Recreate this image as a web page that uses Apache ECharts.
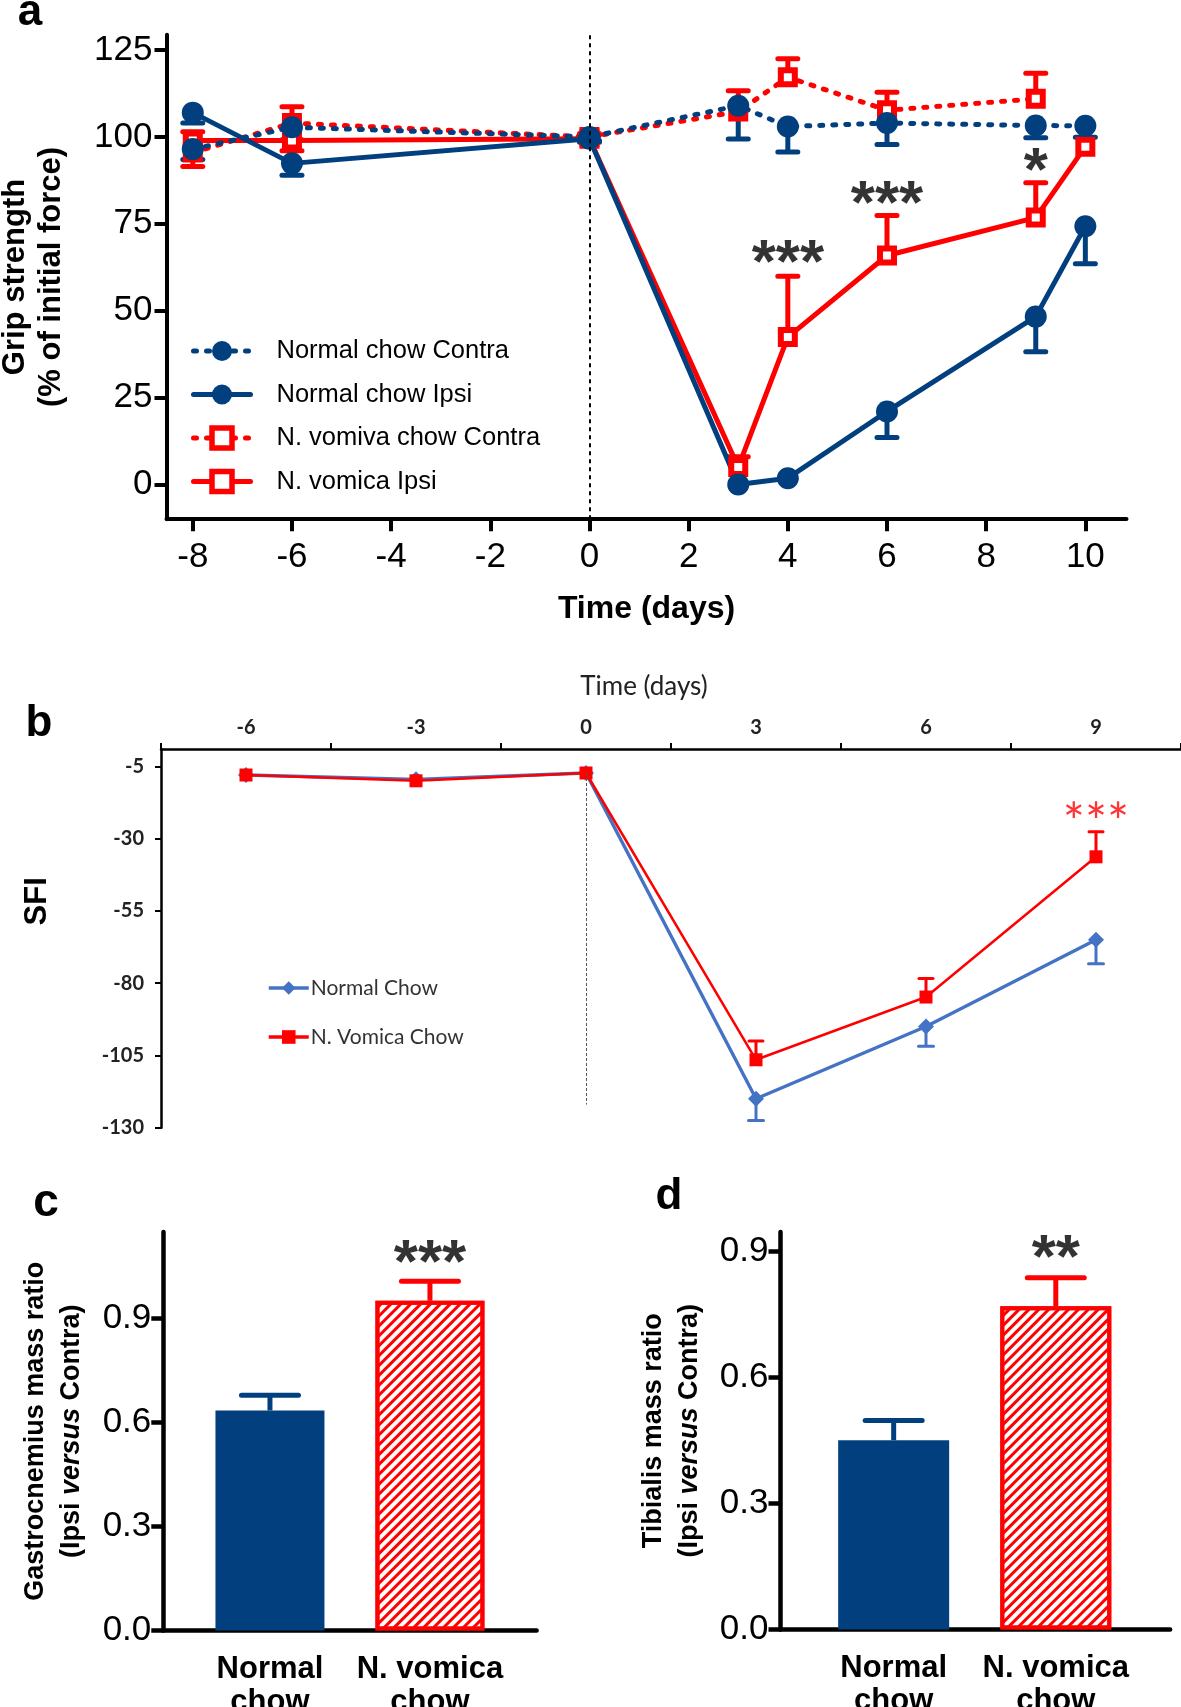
<!DOCTYPE html>
<html><head><meta charset="utf-8">
<script src="https://cdn.jsdelivr.net/npm/echarts@6/dist/echarts.min.js"></script>
<style>html,body{margin:0;padding:0;background:#fff}#c{width:1181px;height:1707px}</style>
</head><body><div id="c"></div><script>
// ---------- Panel a : grip strength ----------
const aDays = [-8, -6, 0, 3, 4, 6, 9, 10];
const aNames = ['Normal chow Contra', 'Normal chow Ipsi', 'N. vomiva chow Contra', 'N. vomica Ipsi'];
const aNormalContra    = [96.5, 102.8, 100, 109, 103, 104, 103.3, 103.2];
const aNormalContraErr = [-3, -3.6, -1, -9.6, -7.3, -6.2, -3.5, -3.3];
const aNormalIpsi      = [107, 92.4, 99.5, 0, 1.8, 21, 48.3, 74.3];
const aNormalIpsiErr   = [-3, -3.4, -1, 0, 0, -7.5, -10.1, -10.8];
const aVomContra       = [95.5, 104, 100, 107.3, 117.2, 107.7, 111, null];
const aVomContraErr    = [-4, 4.7, 1, 6, 5.3, 5.2, 7.3, null];
const aVomIpsi         = [99, 99, 99.5, 5, 42.4, 65.9, 76.8, 97.2];
const aVomIpsiErr      = [2.5, -3, 1, 3, 17.5, 11.5, 10, 0];
const aXTicks = [-8, -6, -4, -2, 0, 2, 4, 6, 8, 10];
const aYTicks = [0, 25, 50, 75, 100, 125];
const aSigDays = [4, 6, 9];
const aSigY    = [66.5, 83.7, 93.1];
const aSigText = ['***', '***', '*'];

// ---------- Panel b : SFI ----------
const bDays = ['-6', '-3', '0', '3', '6', '9'];
const bNames = ['Normal Chow', 'N. Vomica Chow'];
const bNormal    = [-8, -9.5, -7.3, -120, -95, -65];
const bNormalErr = [0, 0, 0, -7.5, -6.8, -8.3];
const bVom       = [-8, -10, -7.3, -106.5, -84.8, -36.3];
const bVomErr    = [0, 0, 0, 6.5, 6.4, 8.7];
const bYTicks = [-5, -30, -55, -80, -105, -130];
const bSigDays = ['9'];
const bSigY    = [-21.6];
const bSigText = ['***'];

// ---------- Panels c, d : mass ratios ----------
const groups = ['Normal\nchow', 'N. vomica\nchow'];
const cValues = [0.634, 0.95];
const cErr    = [0.044, 0.056];
const cSigY   = [null, 1.087];
const cSigText = ['', '***'];
const dValues = [0.451, 0.770];
const dErr    = [0.047, 0.068];
const dSigY   = [null, 0.909];
const dSigText = ['', '**'];
const barYTicks = [0, 0.3, 0.6, 0.9];

// ---------- styles ----------
const F = '"Liberation Sans", Arial, sans-serif';
const FB = 'Lato, "Open Sans", sans-serif';
const NAVY = '#023f7f';
const RED = '#ff0000';
const BBLUE = '#4472c4';
const barColors = [NAVY, RED];

function errRender(capW, lw, colorOf) {
  return function (params, api) {
    const color = typeof colorOf === 'function' ? colorOf(params.dataIndex) : colorOf;
    const p1 = api.coord([api.value(0), api.value(1)]);
    const p2 = api.coord([api.value(0), api.value(2)]);
    return { type: 'group', children: [
      { type: 'line', shape: { x1: p1[0], y1: p1[1], x2: p2[0], y2: p2[1] }, style: { stroke: color, lineWidth: lw } },
      { type: 'line', shape: { x1: p2[0] - capW / 2, y1: p2[1], x2: p2[0] + capW / 2, y2: p2[1] }, style: { stroke: color, lineWidth: lw, lineCap: 'round' } }
    ]};
  };
}
function errData(xs, vals, errs) {
  const out = [];
  xs.forEach((x, i) => { if (vals[i] != null && errs[i]) out.push([x, vals[i], vals[i] + errs[i]]); });
  return out;
}
function errSeries(xi, data, capW, lw, colorOf, z) {
  return { type: 'custom', xAxisIndex: xi, yAxisIndex: xi, data: data, renderItem: errRender(capW, lw, colorOf), z: z || 1, silent: true };
}
function sigSeries(xi, xs, ys, texts, font) {
  const data = [];
  xs.forEach((x, i) => { if (ys[i] != null) data.push({ value: [x, ys[i]], label: { formatter: texts[i] } }); });
  return { type: 'scatter', xAxisIndex: xi, yAxisIndex: xi, data: data, symbol: 'circle', symbolSize: 1,
    itemStyle: { color: 'rgba(0,0,0,0)' }, silent: true, z: 10,
    label: Object.assign({ show: true, position: 'inside' }, font) };
}

const aLine = (name, vals, sym, solid, color) => ({
  name: name, type: 'line', xAxisIndex: 0, yAxisIndex: 0,
  data: aDays.map((d, i) => [d, vals[i]]),
  symbol: sym, symbolSize: sym === 'circle' ? 22 : 14,
  itemStyle: sym === 'circle' ? { color: color } : { color: '#fff', borderColor: color, borderWidth: 6 },
  lineStyle: { color: color, width: 5, type: solid ? 'solid' : [3, 10], cap: 'round' },
  z: 3, silent: true
});

const axisBlack = (w) => ({ show: true, onZero: false, lineStyle: { color: '#000', width: w } });
const hatch = { symbol: 'rect', symbolSize: 1, color: RED, dashArrayX: [1, 0], dashArrayY: [3, 4], rotation: -Math.PI / 4 };
const yName = (l1) => '{b|' + l1 + '}\n{b|(Ipsi }{i|versus}{b| Contra)}';
const yNameRich = { rich: {
  b: { fontSize: 27, fontWeight: 'bold', color: '#000', fontFamily: F, lineHeight: 36 },
  i: { fontSize: 27, fontWeight: 'bold', fontStyle: 'italic', color: '#000', fontFamily: F, lineHeight: 36 } } };

const option = {
  animation: false,
  backgroundColor: '#fff',
  grid: [
    { left: 166.5, top: 34.8, width: 960, height: 484.4, containLabel: false, outerBoundsMode: 'none' },
    { left: 161, top: 749, width: 1020, height: 378.7, containLabel: false, outerBoundsMode: 'none' },
    { left: 163.3, top: 1232, width: 373.3, height: 398.6, containLabel: false, outerBoundsMode: 'none' },
    { left: 780.5, top: 1232, width: 389.6, height: 397.5, containLabel: false, outerBoundsMode: 'none' }
  ],
  xAxis: [
    { gridIndex: 0, type: 'value', min: -8.53, max: 10.83, axisLine: axisBlack(4),
      axisTick: { show: true, customValues: aXTicks, length: 12, lineStyle: { width: 4, color: '#000' } },
      axisLabel: { customValues: aXTicks, fontSize: 35, color: '#000', margin: 21, fontFamily: F },
      splitLine: { show: false },
      name: 'Time (days)', nameLocation: 'middle', nameGap: 74,
      nameTextStyle: { fontSize: 32, fontWeight: 'bold', color: '#000', fontFamily: F } },
    { gridIndex: 1, type: 'category', data: bDays, position: 'top', boundaryGap: true, axisLine: axisBlack(2.5),
      axisTick: { show: true, length: 6, lineStyle: { width: 2, color: '#000' } },
      axisLabel: { fontSize: 20, fontWeight: 'bold', color: '#222', margin: 11, fontFamily: FB },
      name: 'Time (days)', nameLocation: 'middle', nameGap: 49,
      nameTextStyle: { fontSize: 26, color: '#222', fontFamily: FB, padding: [0, 54, 0, 0] } },
    { gridIndex: 2, type: 'value', min: -2 / 3, max: 5 / 3, axisLine: axisBlack(4.5),
      axisTick: { show: false }, splitLine: { show: false },
      axisLabel: { customValues: [0, 1], formatter: v => groups[Math.round(v)], fontSize: 31, fontWeight: 'bold',
        lineHeight: 33, color: '#000', margin: 22, fontFamily: F } },
    { gridIndex: 3, type: 'value', min: -0.698, max: 1.705, axisLine: axisBlack(4.5),
      axisTick: { show: false }, splitLine: { show: false },
      axisLabel: { customValues: [0, 1], formatter: v => groups[Math.round(v)], fontSize: 31, fontWeight: 'bold',
        lineHeight: 33, color: '#000', margin: 22, fontFamily: F } }
  ],
  yAxis: [
    { gridIndex: 0, type: 'value', min: -10, max: 129.4, axisLine: axisBlack(4),
      axisTick: { show: true, customValues: aYTicks, length: 12, lineStyle: { width: 4, color: '#000' } },
      axisLabel: { customValues: aYTicks, fontSize: 35, color: '#000', margin: 14, fontFamily: F },
      splitLine: { show: false },
      name: 'Grip strength\n(% of initial force)', nameLocation: 'middle', nameRotate: 90, nameGap: 97,
      nameTextStyle: { fontSize: 31, fontWeight: 'bold', color: '#000', fontFamily: F, lineHeight: 36 } },
    { gridIndex: 1, type: 'value', min: -130, max: 1, axisLine: axisBlack(2.5),
      axisTick: { show: true, customValues: bYTicks, length: 6, lineStyle: { width: 2, color: '#000' } },
      axisLabel: { customValues: bYTicks, fontSize: 20, fontWeight: 'bold', color: '#222', margin: 17, fontFamily: FB },
      splitLine: { show: false },
      name: 'SFI', nameLocation: 'middle', nameRotate: 90, nameGap: 108,
      nameTextStyle: { fontSize: 31, fontWeight: 'bold', color: '#000', fontFamily: F, padding: [0, 0, 0, 74] } },
    { gridIndex: 2, type: 'value', min: 0, max: 1.148, axisLine: axisBlack(4.5),
      axisTick: { show: true, customValues: barYTicks, length: 12, lineStyle: { width: 4.5, color: '#000' } },
      axisLabel: { customValues: barYTicks, formatter: v => v.toFixed(1), fontSize: 35, color: '#000', margin: 12, fontFamily: F },
      splitLine: { show: false },
      name: yName('Gastrocnemius mass ratio'), nameLocation: 'middle', nameRotate: 90, nameGap: 74, nameTextStyle: yNameRich },
    { gridIndex: 3, type: 'value', min: 0, max: 0.947, axisLine: axisBlack(4.5),
      axisTick: { show: true, customValues: barYTicks, length: 12, lineStyle: { width: 4.5, color: '#000' } },
      axisLabel: { customValues: barYTicks, formatter: v => v.toFixed(1), fontSize: 35, color: '#000', margin: 12, fontFamily: F },
      splitLine: { show: false },
      name: yName('Tibialis mass ratio'), nameLocation: 'middle', nameRotate: 90, nameGap: 73, nameTextStyle: yNameRich }
  ],
  legend: [
    { data: [
        { name: aNames[0] }, { name: aNames[1] },
        { name: aNames[2], itemStyle: { borderWidth: 5.5 } }, { name: aNames[3], itemStyle: { borderWidth: 5.5 } } ],
      orient: 'vertical', left: 186, top: 333, itemWidth: 57, itemHeight: 25, itemGap: 17.5,
      lineStyle: { width: 5 },
      selectedMode: false, textStyle: { fontFamily: F, fontSize: 25.5, color: '#000', lineHeight: 25, padding: [0, 0, 0, 21] } },
    { data: bNames, orient: 'vertical', left: 262, top: 972, itemWidth: 40, itemHeight: 17, itemGap: 27,
      lineStyle: { width: 3.5 },
      selectedMode: false, textStyle: { fontFamily: FB, fontSize: 21, color: '#333', lineHeight: 22, padding: [0, 0, 0, -3] } }
  ],
  graphic: [
    { type: 'text', x: 30, y: 12.5, style: { text: 'a', font: 'bold 44px "Liberation Sans"', fill: '#000', align: 'center', verticalAlign: 'middle' } },
    { type: 'text', x: 39, y: 724, style: { text: 'b', font: 'bold 44px "Liberation Sans"', fill: '#000', align: 'center', verticalAlign: 'middle' } },
    { type: 'text', x: 46, y: 1203.5, style: { text: 'c', font: 'bold 46px "Liberation Sans"', fill: '#000', align: 'center', verticalAlign: 'middle' } },
    { type: 'text', x: 669, y: 1197, style: { text: 'd', font: 'bold 44px "Liberation Sans"', fill: '#000', align: 'center', verticalAlign: 'middle' } }
  ],
  series: [
    // panel a error bars
    errSeries(0, errData(aDays, aVomContra, aVomContraErr), 20, 5, RED),
    errSeries(0, errData(aDays, aVomIpsi, aVomIpsiErr), 20, 5, RED),
    errSeries(0, errData(aDays, aNormalContra, aNormalContraErr), 20, 5, NAVY),
    errSeries(0, errData(aDays, aNormalIpsi, aNormalIpsiErr), 20, 5, NAVY),
    // panel a lines
    Object.assign(aLine(aNames[2], aVomContra, 'rect', false, RED), {
      markLine: { silent: true, symbol: 'none', label: { show: false },
        lineStyle: { color: '#000', width: 2, type: [4, 4] }, data: [{ xAxis: 0 }] } }),
    aLine(aNames[3], aVomIpsi, 'rect', true, RED),
    aLine(aNames[0], aNormalContra, 'circle', false, NAVY),
    aLine(aNames[1], aNormalIpsi, 'circle', true, NAVY),
    sigSeries(0, aSigDays, aSigY, aSigText, { fontSize: 62, fontWeight: 'bold', color: '#000', fontFamily: F, offset: [0, 12] }),
    // panel b
    errSeries(1, errData(bDays, bNormal, bNormalErr), 15, 3, BBLUE),
    errSeries(1, errData(bDays, bVom, bVomErr), 14, 3, RED),
    { name: bNames[0], type: 'line', xAxisIndex: 1, yAxisIndex: 1, data: bNormal, symbol: 'diamond', symbolSize: 16,
      itemStyle: { color: BBLUE }, lineStyle: { color: BBLUE, width: 3.4 }, z: 3, silent: true,
      markLine: { silent: true, symbol: 'none', label: { show: false },
        lineStyle: { color: '#555', width: 1, type: [3, 2] },
        data: [[{ coord: ['0', -7.3] }, { coord: ['0', -122] }]] } },
    { name: bNames[1], type: 'line', xAxisIndex: 1, yAxisIndex: 1, data: bVom, symbol: 'rect', symbolSize: 13,
      itemStyle: { color: RED }, lineStyle: { color: RED, width: 2.5 }, z: 4, silent: true },
    sigSeries(1, bSigDays, bSigY, bSigText, { fontSize: 52, color: RED, fontFamily: FB, offset: [0, 10] }),
    // panel c
    { type: 'bar', xAxisIndex: 2, yAxisIndex: 2, barWidth: 109, silent: true,
      data: cValues.map((v, i) => ({ value: [i, v], itemStyle: i === 0 ? { color: NAVY } :
        { color: '#fff', borderColor: RED, borderWidth: 4, decal: hatch } })) },
    errSeries(2, cValues.map((v, i) => [i, v, v + cErr[i]]), 57, 5, i => barColors[i], 1),
    sigSeries(2, [0, 1], cSigY, cSigText, { fontSize: 62, fontWeight: 'bold', color: '#000', fontFamily: F, offset: [0, 12] }),
    // panel d
    { type: 'bar', xAxisIndex: 3, yAxisIndex: 3, barWidth: 111, silent: true,
      data: dValues.map((v, i) => ({ value: [i, v], itemStyle: i === 0 ? { color: NAVY } :
        { color: '#fff', borderColor: RED, borderWidth: 4, decal: hatch } })) },
    errSeries(3, dValues.map((v, i) => [i, v, v + dErr[i]]), 57, 5, i => barColors[i], 1),
    sigSeries(3, [0, 1], dSigY, dSigText, { fontSize: 62, fontWeight: 'bold', color: '#000', fontFamily: F, offset: [0, 12] })
  ]
};
const chart = echarts.init(document.getElementById('c'), null, { renderer: 'canvas' });
chart.setOption(option);
</script></body></html>
